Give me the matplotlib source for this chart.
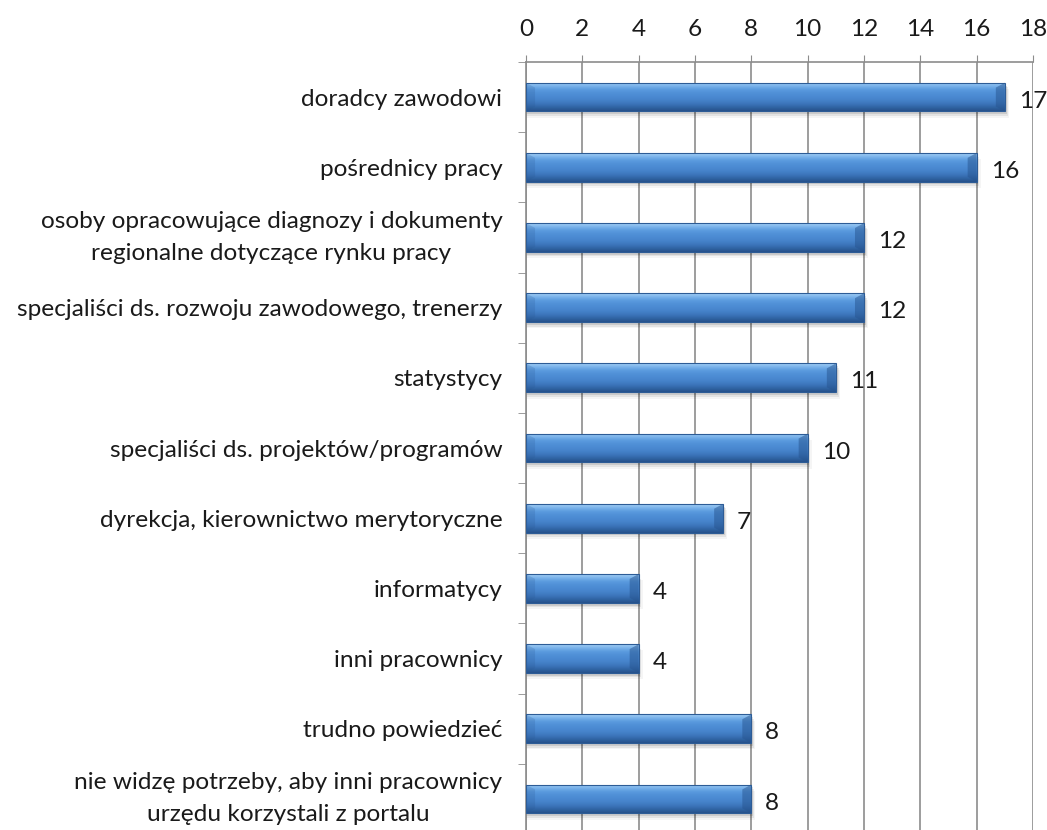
import numpy as np
import matplotlib
matplotlib.use("Agg")
import matplotlib.pyplot as plt
from matplotlib.colors import LinearSegmentedColormap
from matplotlib.patches import Polygon

categories = [
    "doradcy zawodowi",
    "pośrednicy pracy",
    "osoby opracowujące diagnozy i dokumenty\nregionalne dotyczące rynku pracy",
    "specjaliści ds. rozwoju zawodowego, trenerzy",
    "statystycy",
    "specjaliści ds. projektów/programów",
    "dyrekcja, kierownictwo merytoryczne",
    "informatycy",
    "inni pracownicy",
    "trudno powiedzieć",
    "nie widzę potrzeby, aby inni pracownicy\nurzędu korzystali z portalu",
]
values = [17, 16, 12, 12, 11, 10, 7, 4, 4, 8, 8]
x_ticks = list(range(0, 19, 2))

FONT = "Lato"
FS = 17.6
TXT = "#1a1a1a"

fig = plt.figure(figsize=(10.47, 8.30), dpi=100)
ax = fig.add_axes([526 / 1047, -4 / 830, 507 / 1047, (830 - 62 + 4) / 830])

n = len(categories)
ypos = np.arange(n)
bar_h = 0.41

grey = "#8c8c8c"
ax.set_xlim(0, 18)
ax.set_ylim(n - 0.5, -0.5)
ax.xaxis.tick_top()
ax.set_xticks(x_ticks)
ax.set_xticklabels([str(t) for t in x_ticks], fontsize=FS, family=FONT, color=TXT)
ax.tick_params(axis="x", direction="out", length=5, color=grey, pad=11)
ax.grid(axis="x", color=grey, linewidth=1.2, zorder=0)
ax.set_axisbelow(True)

ax.set_yticks(ypos)
ax.set_yticklabels(categories, fontsize=FS, family=FONT, linespacing=1.65, color=TXT)
for t in ax.get_yticklabels():
    t.set_multialignment("center")
    if "\n" in t.get_text():
        t.set_verticalalignment("center")
ax.set_yticks(np.arange(-0.5, n, 1.0), minor=True)
ax.tick_params(axis="y", which="major", length=0, pad=17)
ax.tick_params(axis="y", which="minor", direction="out", length=6, color=grey)

for side in ["bottom", "right"]:
    ax.spines[side].set_visible(False)
for side in ["top", "left"]:
    ax.spines[side].set_color(grey)
    ax.spines[side].set_linewidth(1.2)

# vertical shading of the bars, bottom -> top
cmap = LinearSegmentedColormap.from_list(
    "barshade",
    ["#26518a", "#3064a3", "#3c75bb", "#4582c9", "#4b8ad2", "#5090d7",
     "#5c9cdf", "#7cb4eb", "#a6d1f6"],
)
grad = np.linspace(0, 1, 256).reshape(-1, 1)

bars = ax.barh(ypos, values, height=bar_h, color="#4a86cc", linewidth=0, zorder=2)

for b, v in zip(bars, values):
    y0 = b.get_y()
    y1 = y0 + b.get_height()
    yc = (y0 + y1) / 2
    # soft drop shadow below the bar
    for k, a in enumerate([0.10, 0.07, 0.04]):
        ax.barh(yc + 0.04 + 0.025 * k, v + 0.06 + 0.04 * k, height=bar_h,
                color="#000000", alpha=a, linewidth=0, zorder=1.5)
    im = ax.imshow(grad, cmap=cmap, aspect="auto", extent=[0, v, y1, y0],
                   origin="lower", zorder=2.5, interpolation="bilinear")
    im.set_clip_path(b)
    # bevelled ends
    d = 0.32
    inset = 0.07
    ax.add_patch(Polygon([[v, y0], [v, y1], [v - d, y1 - inset], [v - d, y0 + inset]],
                         closed=True, facecolor="#27548f", alpha=0.5, linewidth=0,
                         zorder=2.6))
    ax.add_patch(Polygon([[0, y0], [d, y0 + inset], [d, y1 - inset], [0, y1]],
                         closed=True, facecolor="#27548f", alpha=0.2, linewidth=0,
                         zorder=2.6))
    ax.barh(yc, v, height=bar_h, fill=False, edgecolor="#2d5c96",
            linewidth=0.8, zorder=2.7)
    ax.annotate(str(v), xy=(v, yc), xytext=(10, -3),
                textcoords="offset points", va="center", ha="left",
                fontsize=FS, family=FONT, color=TXT, zorder=3)

ax.set_xlim(0, 18)
ax.set_ylim(n - 0.5, -0.5)

fig.savefig("out.png", dpi=100)
